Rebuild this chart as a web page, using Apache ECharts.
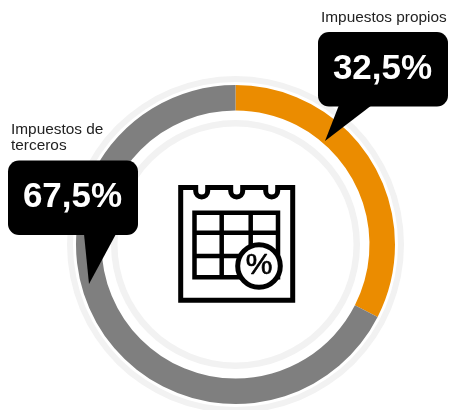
<!DOCTYPE html>
<html><head><meta charset="utf-8">
<style>html,body{margin:0;padding:0;background:#fff}#c{width:449px;height:410px}</style>
<script src="https://cdn.jsdelivr.net/npm/echarts@6/dist/echarts.min.js"></script>
</head><body><div id="c"></div>
<script>
const categories = ['Impuestos propios', 'Impuestos de\nterceros'];
const values = [32.5, 67.5];
const colors = ['#EB8C00', '#7F7F7F'];
const iconSymbol = '%';

const fmt = v => v.toFixed(1).replace('.', ',') + '%';
const FONT = '"Liberation Sans", Arial, sans-serif';
const cx = 235.5, cy = 244.5;
const K = '#000';
const ln = (pts, w) => ({type:'polyline', z:5, shape:{points:pts}, style:{stroke:K, lineWidth:w, fill:null, lineJoin:'miter'}});
const bubble = (x, y, tail, value) => [
  {type:'polygon', z:10, shape:{points:tail}, style:{fill:K}},
  {type:'rect', z:10, shape:{x, y, width:130, height:74.5, r:11}, style:{fill:K}},
  {type:'text', z:11, x:x+64.5, y:y+37, style:{text:fmt(value), fill:'#fff', font:'bold 35px '+FONT, align:'center', verticalAlign:'middle'}}
];
const notches = [201.7, 236.7, 271.7];
const icon = [
  ln([[195.7,187.5],[180.7,187.5],[180.7,300.3],[292.7,300.3],[292.7,187.5],[277.7,187.5]], 5),
  ln([[207.7,187.5],[230.7,187.5]], 5),
  ln([[242.7,187.5],[265.7,187.5]], 5)
];
notches.forEach(x => {
  icon.push(ln([[x-6,185],[x-6,191]], 5), ln([[x+6,185],[x+6,191]], 5));
  icon.push({type:'arc', z:5, shape:{cx:x, cy:191, r:6, startAngle:0, endAngle:Math.PI, clockwise:true}, style:{stroke:K, lineWidth:5, fill:null}});
});
icon.push(
  {type:'rect', z:5, shape:{x:194.5, y:212.8, width:83.5, height:64.4}, style:{stroke:K, lineWidth:4.5, fill:'#fff'}},
  ln([[221.7,212],[221.7,278]], 4.5), ln([[250.7,212],[250.7,278]], 4.5),
  ln([[194,232.7],[278,232.7]], 4.5), ln([[194,256],[278,256]], 4.5),
  {type:'circle', z:6, shape:{cx:259, cy:266, r:21.3}, style:{fill:'#fff', stroke:K, lineWidth:5}},
  {type:'text', z:7, x:259, y:266, style:{text:iconSymbol, fill:K, stroke:K, lineWidth:0.7, font:'30px '+FONT, align:'center', verticalAlign:'middle'}}
);
const chart = echarts.init(document.getElementById('c'), null, {renderer:'canvas'});
chart.setOption({
  animation:false,
  backgroundColor:'#fff',
  series:[{
    type:'pie', silent:true, center:[cx,cy], radius:[134,159.5], startAngle:90, clockwise:true,
    label:{show:false}, labelLine:{show:false},
    data:categories.map((name,i)=>({name, value:values[i], itemStyle:{color:colors[i]}}))
  }],
  graphic:{elements:[
    {type:'ring', z:1, shape:{cx, cy, r:168.5, r0:162.5}, style:{fill:'#F2F2F2'}},
    {type:'ring', z:1, shape:{cx, cy, r:124.5, r0:118}, style:{fill:'#F2F2F2'}},
    ...icon,
    ...bubble(318,32,[[339,105],[372,105],[325,141]],values[0]),
    ...bubble(8,160.5,[[84,234],[116,234],[89,284]],values[1]),
    {type:'text', z:11, x:321, y:18, style:{text:categories[0], fill:'#222', font:'15.4px '+FONT, verticalAlign:'middle'}},
    {type:'text', z:11, x:11, y:137.5, style:{text:categories[1], fill:'#222', font:'15.4px '+FONT, lineHeight:16.5, verticalAlign:'middle'}}
  ]}
});
</script></body></html>
